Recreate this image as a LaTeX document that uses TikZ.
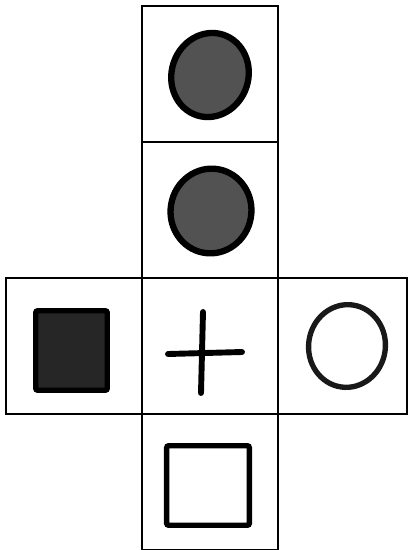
\documentclass[tikz,border=0pt]{standalone}
\usepackage{tikz}
\usetikzlibrary{positioning,shapes.geometric}
\tikzset{
  netcell/.style={
    rectangle,
    draw=black,
    line width=0.8pt,
    minimum width=34mm,
    minimum height=34mm,
    inner sep=0pt,
    outer sep=0pt
  },
  inkblob/.style={
    ellipse,
    draw=black,
    fill=black!68,
    line width=4.5pt,
    inner sep=0pt
  },
  inkring/.style={
    ellipse,
    draw=black!90,
    line width=3.8pt,
    inner sep=0pt
  },
  inkbox/.style={
    rectangle,
    rounded corners=1.5pt,
    draw=black,
    line width=3.8pt,
    inner sep=0pt
  },
  inkline/.style={
    line width=4.2pt,
    line cap=round,
    draw=black
  }
}

\begin{document}
\begin{tikzpicture}[x=0.25mm, y=-0.25mm]
\useasboundingbox (0,0) rectangle (409,550);

% the cross of six cells
\node[netcell] (top) at (210,74) {};
\node[netcell, below=0pt of top] (upper) {};
\node[netcell, below=0pt of upper] (middle) {};
\node[netcell, below=0pt of middle] (bottom) {};
\node[netcell, left=0pt of middle] (left) {};
\node[netcell, minimum width=32.25mm, right=0pt of middle] (right) {};

% marks in the cells
\node[inkblob, minimum width=19.2mm, minimum height=21.2mm, rotate=-18] (topoval) at (210,75) {};
\node[inkblob, minimum width=20.2mm, minimum height=21.2mm, rotate=-10] (upperoval) at (211,211) {};
\node[inkbox, fill=black!85, minimum width=17.9mm, minimum height=19.9mm] (leftsquare) at (71.5,350.5) {};
\node[inkring, minimum width=19.2mm, minimum height=20.7mm, rotate=-8] (rightring) at (347,346) {};
\node[inkbox, minimum width=20.7mm, minimum height=19.9mm] (bottomsquare) at (208,485.5) {};

\coordinate (plusl) at (168,354);
\coordinate (plusr) at (242,352);
\coordinate (plust) at (203,312);
\coordinate (plusb) at (201,393);
\draw[inkline] (plusl) -- (plusr);
\draw[inkline] (plust) -- (plusb);
\end{tikzpicture}
\end{document}
